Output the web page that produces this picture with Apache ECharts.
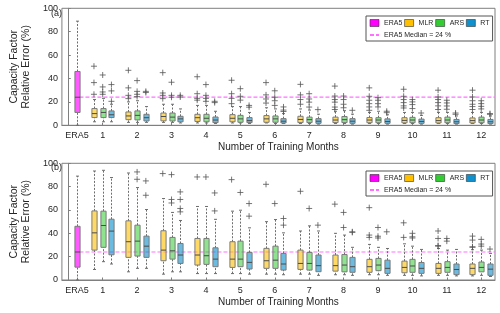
<!DOCTYPE html>
<html><head><meta charset="utf-8">
<script src="https://cdn.jsdelivr.net/npm/echarts@6/dist/echarts.min.js"></script>
<style>html,body{margin:0;padding:0;background:#fff}#c{width:500px;height:313px}</style>
</head><body><div id="c"></div>
<script>
// ---------- data ----------
const groupLabels = ['ERA5','1','2','3','4','5','6','7','8','9','10','11','12'];
const methods = ['MLR','ARS','RT'];
const era5Stats = [0, 11, 24, 46, 89];      // [min, q1, median, q3, max]
const era5MedianValue = 24;

// panel (a)  [min, q1, median, q3, max] for months 1..12
const mlrA = [[3,6.6,10,14.3,22],[2.5,4.8,8,11.4,20],[2.5,3.8,7.5,10.5,18],[2,3.3,6.5,9.4,17],[2,3,6,9.1,16],[2,2.6,5.5,8.3,15],[1.5,2.3,5,7.7,14],[1.5,2.3,4.5,7,12],[1.5,2.2,4.5,6.6,11],[1.5,2.1,4.2,6.5,11],[1.5,2,4,6.5,11],[1.5,2,4,6.3,11]];
const arsA = [[3,6.6,11,14.3,23],[2.5,4.6,8.5,12.3,21],[2.5,3.7,7,10.5,18],[2,3,6,9.4,17],[2,2.6,5.5,8.5,16],[1.5,2.6,5.5,8,14],[1.5,2.3,4.8,7,13],[1.5,2.3,4.8,7.5,12.5],[1.5,2.2,4.5,6.5,12],[1.5,2.2,4.5,6.8,11],[1.5,2.2,4.5,7,11],[1.5,2.2,4.5,7,11]];
const rtA  = [[3,6.6,9,12.3,18],[2.5,3.7,6.5,9.4,16],[2,3,5.5,7.7,14],[1.5,2.3,4.5,7.1,12],[1.5,2.3,4,6.6,11],[1.5,2,3.5,5.7,10],[1,1.7,3.5,5.7,9.5],[1,1.7,3.5,5.7,9.5],[1,1.7,3.3,5.5,9],[1,1.7,3.3,5.3,8.5],[1,1.5,3,5,8],[1,1.5,3,5,8]];
const mlrAOut = [[50.5,36.5,26.5],[47,32,25.6,22.8],[45,27.6,25.6,22.8],[41.5,27,23,21.5],[38.5,27,23,18.5],[36.5,26,22.5,19],[35,26,22,18],[33.5,25,22,19.8,15.6,13.5],[32,24.8,21.4,18.5,15.7,12.8],[30.8,24.8,22,19.4,16.6,14.8],[30,24.2,22,19.4,16.6,13.5],[30,24.2,21,18,16,13.5]];
const arsAOut = [[43,32.8,28.5,26.5],[38.2,29,26.5,24.5],[36.8,25.6,24],[34.8,25.6,23,20.5],[31.3,24.8,21.5],[29.5,24,21,17],[27,22.5,19.8,15.6],[25,22,18,15],[23.6,21.4,18.5,15.7],[22,20,17.7,14.3],[21.4,19.1,16.5,13.7],[21,18.5,16.2,14]];
const rtAOut  = [[34.8,29.4,20.5],[29,28],[25.6,24.2],[20.5,19.4],[17,15.5],[15.7,13,11.8],[13.4],[12.8],[12,10.8],[10.5],[10.5,9.4],[10,9.4]];

// panel (b)
const mlrB = [[9,25.6,40.4,59.2,93.4],[7,19.4,32.8,50.7,91.7],[5,16.5,25.6,42.2,69.8],[5.5,12.8,21.4,35.6,63],[5.5,10.8,17.9,32.8,59],[5,10,16.5,27.1,50],[5,9.1,14.2,25.6,42],[4.5,7.6,12.3,21.4,40],[4.5,6.6,11.4,17.7,30.5],[4,6.2,10.8,16.2,31],[4,5.7,10,14.2,27],[3.5,4.6,10,13.7,26]];
const arsB = [[15.7,28,46.7,59,94],[10,20.5,33.3,47,79.2],[7,17.9,25,36.5,57.9],[5.5,13.4,20.8,35.6,63],[5.5,11.4,17.9,33.3,59.8],[5,10,17,29,51.8],[5,8.5,14.2,23.6,46.4],[4.5,7,12.8,21.8,38.5],[4.5,8,12.8,18.5,28],[4,6.6,12,17.7,29],[4,6.6,10.8,15.7,25.6],[4,7,10.8,15.4,25.6]];
const rtB  = [[13.7,21.6,41.9,52.1,87.8],[10,19.4,29,37.6,60.4],[7,14.2,21.4,31.3,51],[5.5,11.4,17.9,27.6,52],[5,9.4,15.1,23.6,44.7],[4.5,8.5,13.7,22.8,40.4],[4,7.1,12.3,21.4,42],[4,6.6,11.4,19.4,28],[4,5.7,10,17,27],[3.5,5.7,10,15,26.2],[3.5,4.6,9,13.7,26.2],[3,4,9.3,13.7,22.8]];
const mlrBOut = [[],[],[91.2],[88.3],[86],[82],[76],[65],[62,38.5,36.5],[49,36.5],[42,35.6,29.5,29],[37.6,34.2,28.5,28]];
const arsBOut = [[],[92.6,86.3],[90.3,69,66],[88.3],[75],[65.5],[61.3],[57.9,45],[45,37.5,36],[40,37,36],[35.6,33.3],[34.8,30.8,29]];
const rtBOut  = [[],[84.9,72.6],[75.5,69,61.3,58.4],[74.6,59.2],[65.5,54.7],[52.7,47],[47],[41.3,40.8],[41.3],[],[],[26.5]];

// ---------- style / layout ----------
const colors = {ERA5:'#ff00ff', MLR:'#ffc000', ARS:'#33cc33', RT:'#1090cc'};
const fills  = {ERA5:'rgba(255,0,255,0.65)', MLR:'rgba(255,192,0,0.6)', ARS:'rgba(51,204,51,0.55)', RT:'rgba(16,144,204,0.62)'};
const ERA5_X = 0.25, OFFSET = 0.254, BOX_W = 0.15;
const X_MIN = -0.185, X_MAX = 12.4;
const FONT = 'Liberation Sans, Arial, sans-serif';
const TXT = '#262626';

function renderBox(fill) {
  return function (params, api) {
    const x = api.value(0);
    const p = [1,2,3,4,5].map(i => api.coord([x, api.value(i)]));
    const cx = Math.round(p[0][0]) + 0.5;
    const w = api.size([BOX_W, 0])[0];
    const cap = 3;
    const dash = {stroke:'#6e6e6e', lineWidth:1, lineDash:[2,1.5]};
    const solid = {stroke:'#6e6e6e', lineWidth:1};
    return {type:'group', children:[
      {type:'line', shape:{x1:cx,y1:p[0][1],x2:cx,y2:p[1][1]}, style:dash},
      {type:'line', shape:{x1:cx,y1:p[3][1],x2:cx,y2:p[4][1]}, style:dash},
      {type:'line', shape:{x1:cx-cap/2,y1:p[0][1],x2:cx+cap/2,y2:p[0][1]}, style:solid},
      {type:'line', shape:{x1:cx-cap/2,y1:p[4][1],x2:cx+cap/2,y2:p[4][1]}, style:solid},
      {type:'rect', shape:{x:cx-w/2, y:p[3][1], width:w, height:p[1][1]-p[3][1]}, style:{fill:fill, stroke:'#7a7a7a', lineWidth:1}},
      {type:'line', shape:{x1:cx-w/2,y1:p[2][1],x2:cx+w/2,y2:p[2][1]}, style:{stroke:'#4a4a4a', lineWidth:1}}
    ]};
  };
}

const grids = [
  {left:49, right:5, top:8.3, height:117},
  {left:49, right:5, top:163.3, height:116.7}
];
const panelData = [
  {MLR:mlrA, ARS:arsA, RT:rtA, MLRo:mlrAOut, ARSo:arsAOut, RTo:rtAOut},
  {MLR:mlrB, ARS:arsB, RT:rtB, MLRo:mlrBOut, ARSo:arsBOut, RTo:rtBOut}
];
const labelPos = [ERA5_X].concat(groupLabels.slice(1).map((_, i) => i + 1));

const xAxes = [], yAxes = [], series = [], legends = [], titles = [];
grids.forEach((g, gi) => {
  xAxes.push({
    type:'value', gridIndex:gi, min:X_MIN, max:X_MAX,
    axisLine:{show:true, lineStyle:{color:'#7f7f7f'}},
    axisTick:{show:true, inside:true, length:2.5, customValues:labelPos, lineStyle:{color:'#7f7f7f'}},
    axisLabel:{customValues:labelPos, margin:6, fontSize:9, color:TXT, fontFamily:FONT,
      formatter: v => { const i = labelPos.findIndex(p => Math.abs(p - v) < 1e-6); return i >= 0 ? groupLabels[i] : ''; }},
    splitLine:{show:false},
    name:'Number of Training Months', nameLocation:'middle', nameGap:17,
    nameTextStyle:{fontSize:10, color:TXT, fontFamily:FONT}
  });
  yAxes.push({
    type:'value', gridIndex:gi, min:0, max:100, interval:20,
    axisLine:{show:true, lineStyle:{color:'#7f7f7f'}},
    axisTick:{show:true, inside:true, length:2.5, lineStyle:{color:'#7f7f7f'}},
    axisLabel:{margin:4, fontSize:9, color:TXT, fontFamily:FONT},
    splitLine:{show:false},
    name:'Capacity Factor\nRelative Error (%)', nameLocation:'middle', nameGap:23,
    nameTextStyle:{fontSize:10.5, lineHeight:12, color:TXT, fontFamily:FONT}
  });
  const pd = panelData[gi];
  // ERA5 median reference line (from ERA5 box edge to right edge)
  series.push({
    type:'line', name:'ERA5 Median = 24 %', xAxisIndex:gi, yAxisIndex:gi,
    data:[[ERA5_X + BOX_W/2, era5MedianValue],[X_MAX, era5MedianValue]],
    symbol:'none', silent:true, z:1,
    lineStyle:{color:'#ff70ff', width:1.2, type:[4,2]}
  });
  // ERA5 box
  series.push({
    type:'custom', name:'ERA5', xAxisIndex:gi, yAxisIndex:gi, z:2,
    itemStyle:{color:colors.ERA5},
    encode:{x:0, y:[1,2,3,4,5]},
    data:[[ERA5_X].concat(era5Stats)],
    renderItem: renderBox(fills.ERA5)
  });
  methods.forEach((m, mi) => {
    const off = (mi - 1) * OFFSET;
    series.push({
      type:'custom', name:m, xAxisIndex:gi, yAxisIndex:gi, z:2,
      itemStyle:{color:colors[m]},
      encode:{x:0, y:[1,2,3,4,5]},
      data: pd[m].map((s, k) => [k + 1 + off].concat(s)),
      renderItem: renderBox(fills[m])
    });
    const outs = [];
    pd[m + 'o'].forEach((arr, k) => arr.forEach(v => outs.push([k + 1 + off, v])));
    series.push({
      type:'scatter', name:m + ' outliers', xAxisIndex:gi, yAxisIndex:gi, z:3,
      symbol:'path://M5,0V10M0,5H10', symbolSize:6,
      itemStyle:{color:'rgba(0,0,0,0)', borderColor:'#555', borderWidth:1},
      data: outs, silent:true
    });
  });
  legends.push({
    left:366, top: gi === 0 ? 16 : 171, width:121,
    orient:'horizontal', itemWidth:9, itemHeight:7, itemGap:2,
    padding:[2,3,1,3], backgroundColor:'#fff', borderColor:'#555', borderWidth:1,
    textStyle:{fontSize:7, lineHeight:10, color:TXT, fontFamily:FONT},
    selectedMode:false,
    data:[
      {name:'ERA5', icon:'rect', itemStyle:{color:colors.ERA5, borderColor:'#333', borderWidth:0.6}},
      {name:'MLR', icon:'rect', itemStyle:{color:colors.MLR, borderColor:'#333', borderWidth:0.6}},
      {name:'ARS', icon:'rect', itemStyle:{color:colors.ARS, borderColor:'#333', borderWidth:0.6}},
      {name:'RT', icon:'rect', itemStyle:{color:colors.RT, borderColor:'#333', borderWidth:0.6}},
      {name:'ERA5 Median = 24 %', itemStyle:{opacity:0, borderWidth:0}}
    ]
  });
  titles.push({text: gi === 0 ? '(a)' : '(b)', left:51, top: gi === 0 ? 9.5 : 163, padding:0,
    textStyle:{fontSize:9, fontWeight:'normal', color:TXT, fontFamily:FONT}});
});

const chart = echarts.init(document.getElementById('c'), null, {renderer:'canvas'});
chart.setOption({
  animation:false,
  title: titles,
  grid: grids.map(g => Object.assign({show:true, borderColor:'#7f7f7f', borderWidth:1}, g)),
  xAxis: xAxes, yAxis: yAxes, legend: legends, series: series
});
</script></body></html>
